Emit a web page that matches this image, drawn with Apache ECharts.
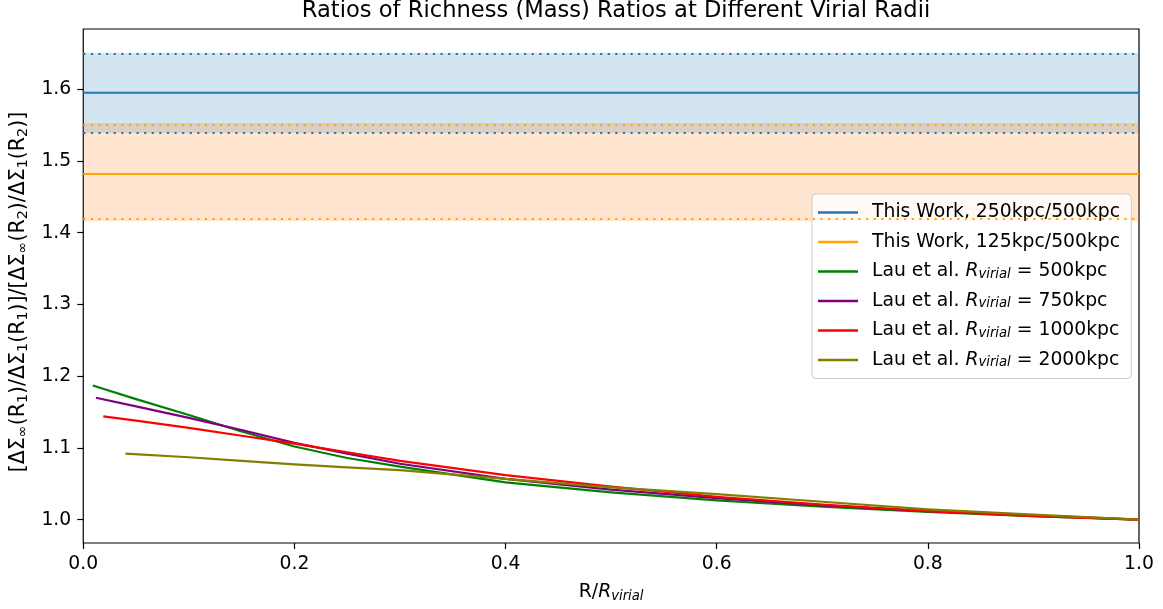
<!DOCTYPE html>
<html>
<head>
<meta charset="utf-8">
<title>Ratios of Richness (Mass) Ratios at Different Virial Radii</title>
<script src="https://cdn.jsdelivr.net/npm/echarts@6/dist/echarts.min.js"></script>
<style>
  html, body { margin: 0; padding: 0; background: #ffffff; }
  #chart { width: 1163px; height: 609px; }
</style>
</head>
<body>
<div id="chart"></div>
<script>
// Measured richness-ratio bands (mean, upper, lower)
const workBlue = { mean: 1.595, upper: 1.651, lower: 1.539 };   // 250kpc / 500kpc
const workOrange = { mean: 1.482, upper: 1.553, lower: 1.416 }; // 125kpc / 500kpc

// Lau et al. model ratios versus R / R_virial
const lauX500 = [0.009, 0.05, 0.1, 0.15, 0.2, 0.25, 0.3, 0.4, 0.5, 0.6, 0.7, 0.8, 0.9, 1.0];
const lauY500 = [1.187, 1.168, 1.146, 1.123, 1.102, 1.086, 1.074, 1.052, 1.038, 1.027, 1.018, 1.011, 1.005, 1.000];

const lauX750 = [0.012, 0.05, 0.1, 0.15, 0.2, 0.25, 0.3, 0.4, 0.5, 0.6, 0.7, 0.8, 0.9, 1.0];
const lauY750 = [1.170, 1.158, 1.142, 1.125, 1.107, 1.092, 1.078, 1.057, 1.042, 1.030, 1.020, 1.012, 1.006, 1.000];

const lauX1000 = [0.019, 0.05, 0.1, 0.15, 0.2, 0.25, 0.3, 0.4, 0.5, 0.6, 0.7, 0.8, 0.9, 1.0];
const lauY1000 = [1.144, 1.138, 1.128, 1.117, 1.106, 1.094, 1.082, 1.062, 1.046, 1.032, 1.021, 1.012, 1.005, 1.000];

const lauX2000 = [0.04, 0.1, 0.15, 0.2, 0.25, 0.3, 0.4, 0.5, 0.6, 0.7, 0.8, 0.9, 1.0];
const lauY2000 = [1.092, 1.087, 1.082, 1.077, 1.073, 1.069, 1.057, 1.045, 1.0355, 1.025, 1.0145, 1.007, 1.000];

const yTicks = [1.0, 1.1, 1.2, 1.3, 1.4, 1.5, 1.6];
const xTicks = [0.0, 0.2, 0.4, 0.6, 0.8, 1.0];

const pairs = (xs, ys) => xs.map((x, i) => [x, ys[i]]);

const FONT = 'DejaVu Sans';
const FS = 18.8;      // tick, legend and axis-label size
const FS_SUB = 13.2;  // subscripts
const C_BLUE = '#1f77b4';
const C_ORANGE = '#ffa500';

function bandSeries(name, band, lineColor, fillColor) {
  return {
    name: name,
    type: 'line',
    data: [[0, band.mean], [1, band.mean]],
    symbol: 'none',
    silent: true,
    color: lineColor,
    itemStyle: { color: lineColor },
    lineStyle: { color: lineColor, width: 2 },
    markLine: {
      silent: true,
      symbol: ['none', 'none'],
      label: { show: false },
      lineStyle: { color: lineColor, width: 2.2, type: [2.2, 5.4] },
      emphasis: { disabled: true },
      data: [{ yAxis: band.upper }, { yAxis: band.lower }]
    },
    markArea: {
      silent: true,
      itemStyle: { color: fillColor },
      emphasis: { disabled: true },
      data: [[{ yAxis: band.lower }, { yAxis: band.upper }]]
    }
  };
}

function lauSeries(name, xs, ys, color) {
  return {
    name: name,
    type: 'line',
    data: pairs(xs, ys),
    symbol: 'none',
    smooth: false,
    silent: true,
    color: color,
    itemStyle: { color: color },
    lineStyle: { color: color, width: 2.2, join: 'round' }
  };
}

const legendLabels = {
  'This Work, 250kpc/500kpc': '{t|This Work, 250kpc/500kpc}{s| }',
  'This Work, 125kpc/500kpc': '{t|This Work, 125kpc/500kpc}{s| }',
  'lau500': '{t|Lau et al. }{i|R}{s|virial}{t| = 500kpc}',
  'lau750': '{t|Lau et al. }{i|R}{s|virial}{t| = 750kpc}',
  'lau1000': '{t|Lau et al. }{i|R}{s|virial}{t| = 1000kpc}',
  'lau2000': '{t|Lau et al. }{i|R}{s|virial}{t| = 2000kpc}'
};

const chart = echarts.init(document.getElementById('chart'), null, { renderer: 'canvas' });

chart.setOption({
  animation: false,
  backgroundColor: '#ffffff',
  textStyle: { fontFamily: FONT },
  title: {
    text: 'Ratios of Richness (Mass) Ratios at Different Virial Radii',
    left: 611,
    textAlign: 'center',
    top: -5,
    textStyle: { fontFamily: FONT, fontSize: 22.6, fontWeight: 'normal', color: '#000' }
  },
  grid: {
    left: 83, right: 24, top: 29, bottom: 66,
    show: true, borderColor: '#000', borderWidth: 1.2, backgroundColor: 'transparent'
  },
  legend: {
    orient: 'vertical',
    left: 812,
    top: 194,
    padding: [9, 7, 9, 6],
    itemGap: 10.5,
    itemWidth: 40,
    itemHeight: 2.4,
    icon: 'rect',
    backgroundColor: 'rgba(255,255,255,0.8)',
    borderColor: '#cccccc',
    borderWidth: 1,
    borderRadius: 4,
    selectedMode: false,
    data: ['This Work, 250kpc/500kpc', 'This Work, 125kpc/500kpc', 'lau500', 'lau750', 'lau1000', 'lau2000'],
    formatter: (name) => legendLabels[name],
    textStyle: {
      fontFamily: FONT,
      color: '#000',
      padding: [0, 0, 0, 9],
      rich: {
        t: { fontFamily: FONT, fontSize: FS, color: '#000' },
        i: { fontFamily: FONT, fontSize: FS, fontStyle: 'italic', color: '#000' },
        s: { fontFamily: FONT, fontSize: FS_SUB, fontStyle: 'italic', color: '#000', lineHeight: 14, verticalAlign: 'bottom' }
      }
    }
  },
  xAxis: {
    type: 'value',
    min: 0,
    max: 1,
    name: '{n|R/}{i|R}{s|virial}',
    nameLocation: 'middle',
    nameGap: 38,
    nameTextStyle: {
      rich: {
        n: { fontFamily: FONT, fontSize: FS, color: '#000', lineHeight: 22 },
        i: { fontFamily: FONT, fontSize: FS, fontStyle: 'italic', color: '#000', lineHeight: 22 },
        s: { fontFamily: FONT, fontSize: FS_SUB, fontStyle: 'italic', color: '#000', lineHeight: 13, verticalAlign: 'bottom' }
      }
    },
    axisLine: { show: false },
    splitLine: { show: false },
    axisTick: { show: true, inside: false, length: 6, customValues: xTicks, lineStyle: { color: '#000', width: 1.2 } },
    axisLabel: {
      customValues: xTicks,
      formatter: (v) => v.toFixed(1),
      fontFamily: FONT, fontSize: FS, color: '#000', margin: 12
    }
  },
  yAxis: {
    type: 'value',
    min: 0.9675,
    max: 1.684,
    name: '{n|[ΔΣ}{s|∞}{n|(R}{s|1}{n|)/ΔΣ}{s|1}{n|(R}{s|1}{n|)]/[ΔΣ}{s|∞}{n|(R}{s|2}{n|)/ΔΣ}{s|1}{n|(R}{s|2}{n|)]}',
    nameLocation: 'middle',
    nameRotate: 90,
    nameGap: 52,
    nameTextStyle: {
      padding: [0, 12, 0, 0],
      rich: {
        n: { fontFamily: FONT, fontSize: 20.5, color: '#000', lineHeight: 24 },
        s: { fontFamily: FONT, fontSize: 14.4, color: '#000', lineHeight: 14, verticalAlign: 'bottom' }
      }
    },
    axisLine: { show: false },
    splitLine: { show: false },
    axisTick: { show: true, inside: false, length: 6, customValues: yTicks, lineStyle: { color: '#000', width: 1.2 } },
    axisLabel: {
      customValues: yTicks,
      formatter: (v) => v.toFixed(1),
      fontFamily: FONT, fontSize: FS, color: '#000', margin: 12
    }
  },
  series: [
    bandSeries('This Work, 250kpc/500kpc', workBlue, C_BLUE, 'rgba(31,119,180,0.2)'),
    bandSeries('This Work, 125kpc/500kpc', workOrange, C_ORANGE, 'rgba(255,127,14,0.2)'),
    lauSeries('lau500', lauX500, lauY500, '#008000'),
    lauSeries('lau750', lauX750, lauY750, '#800080'),
    lauSeries('lau1000', lauX1000, lauY1000, '#ff0000'),
    lauSeries('lau2000', lauX2000, lauY2000, '#808000')
  ]
});
</script>
</body>
</html>
